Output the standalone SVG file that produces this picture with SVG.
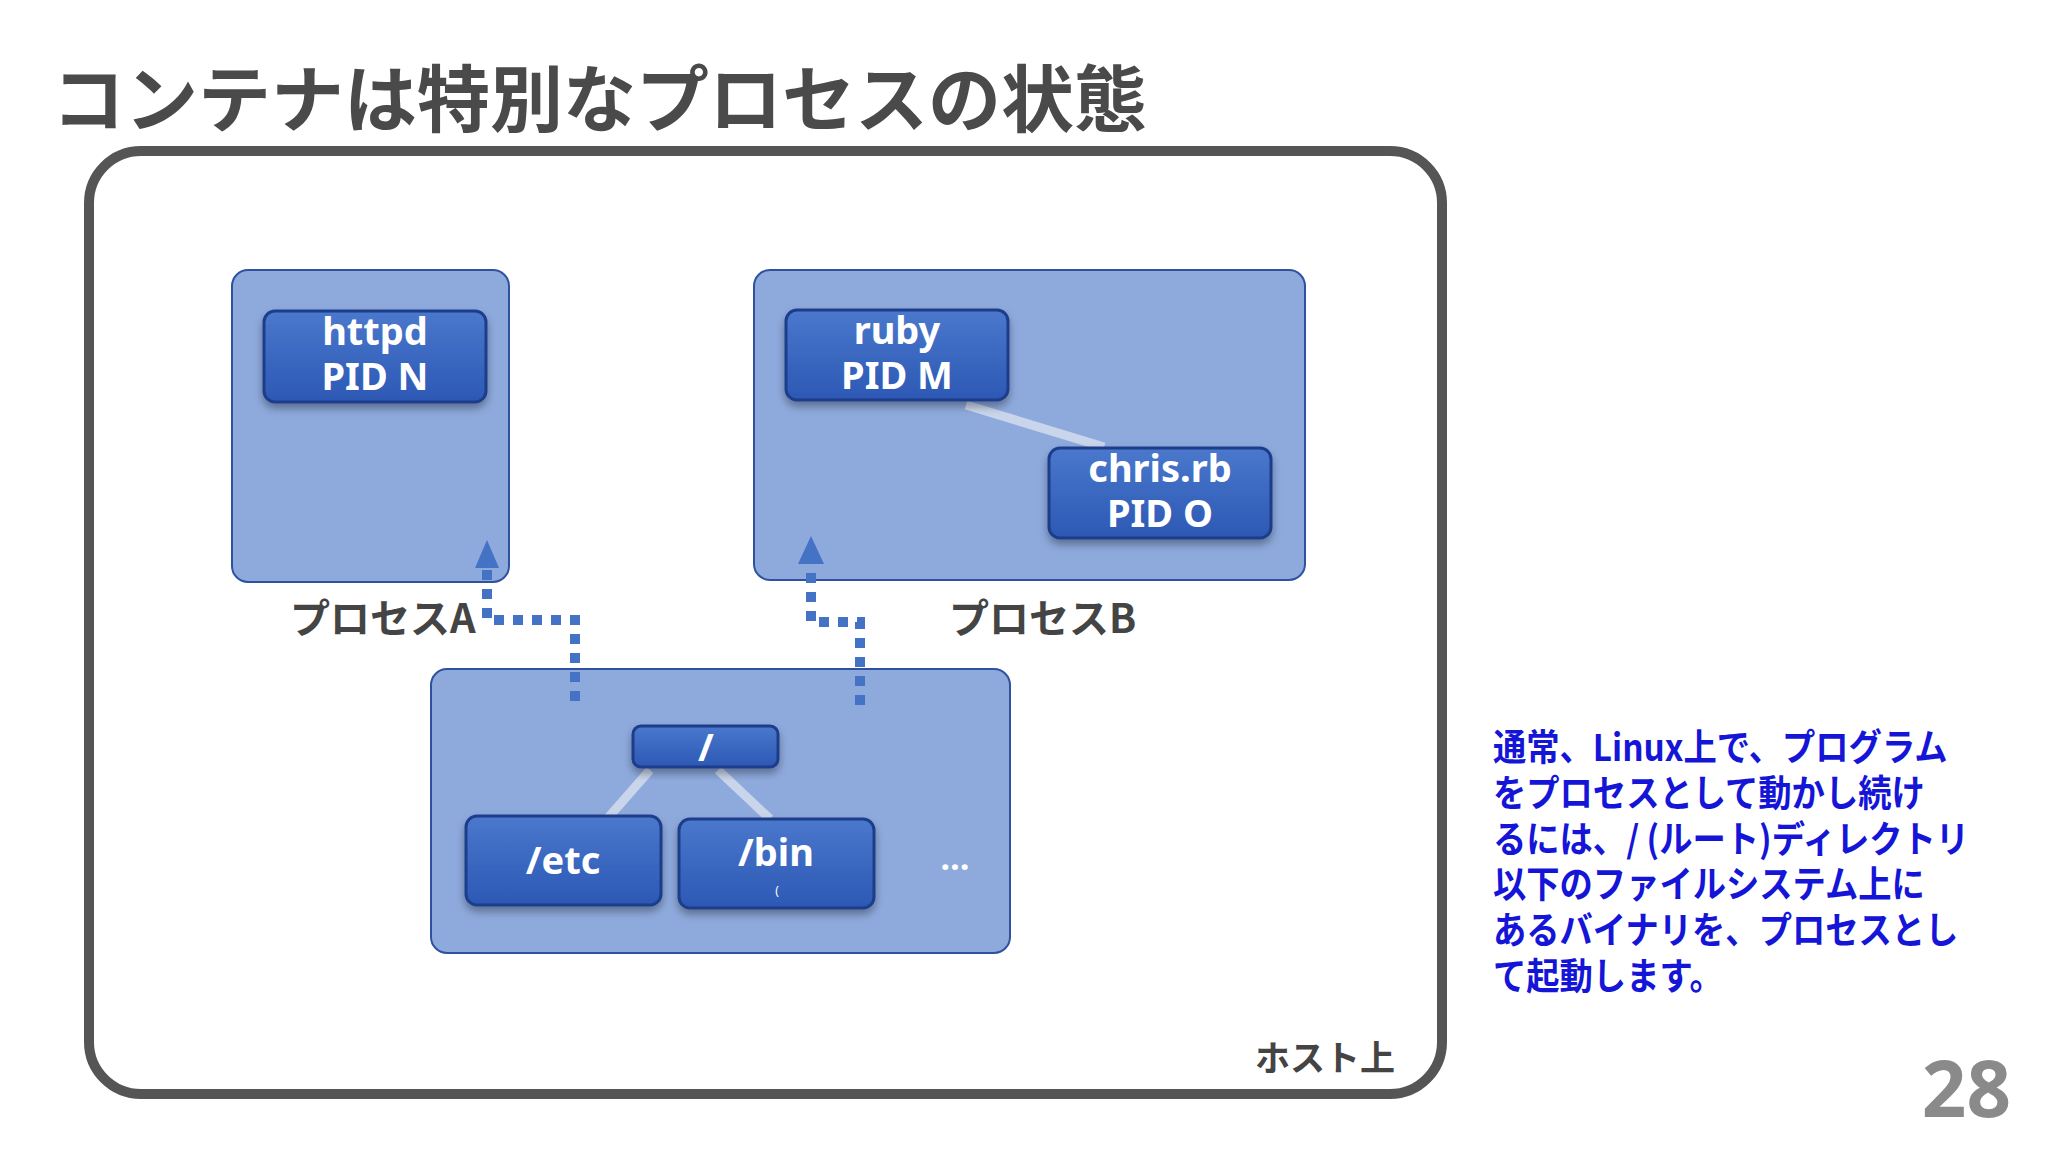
<svg xmlns="http://www.w3.org/2000/svg" width="2048" height="1152" viewBox="0 0 2048 1152">
<style>
.grp{fill:#8eaadd;stroke:#2f52a0;stroke-width:2}
.node{fill:url(#ng);stroke:#1e3d8a;stroke-width:3;filter:url(#sh)}
.nt{font-family:"Noto Sans","Open Sans",sans-serif;font-weight:bold;font-size:38px;fill:#fff;text-anchor:middle}
.lbl{font-family:"Noto Sans CJK JP","Noto Sans",sans-serif;font-weight:bold;font-size:40px;fill:#444}
.tree{stroke:#c9d5ea;stroke-width:9;fill:none}
.dot{stroke:#4472c4;stroke-width:10;stroke-dasharray:10 9;fill:none}
.note{font-family:"Noto Sans CJK JP",sans-serif;font-weight:bold;font-size:37px;fill:#1515d8}
</style>
<defs>
<linearGradient id="ng" x1="0" y1="0" x2="0" y2="1"><stop offset="0" stop-color="#4a78cc"/><stop offset="1" stop-color="#2c58b4"/></linearGradient>
<filter id="sh" x="-10%" y="-10%" width="120%" height="140%"><feDropShadow dx="0" dy="5" stdDeviation="4" flood-color="#000" flood-opacity="0.35"/></filter>
</defs>
<rect width="2048" height="1152" fill="#fff"/>
<text x="52" y="126" font-family="Noto Sans CJK JP,sans-serif" font-weight="bold" font-size="73" fill="#4a4a4a">コンテナは特別なプロセスの状態</text>
<rect x="89" y="151" width="1353" height="943" rx="52" fill="#fff" stroke="#555" stroke-width="10"/>
<g id="processA"><rect class="grp" x="232" y="270" width="277" height="312" rx="16"/></g>
<g id="processB"><rect class="grp" x="754" y="270" width="551" height="310" rx="16"/></g>
<g id="fs"><rect class="grp" x="431" y="669" width="579" height="284" rx="16"/></g>
<g id="connectors">
<line class="tree" x1="966" y1="405" x2="1104" y2="447"/>
<line class="tree" x1="650" y1="770" x2="607" y2="819"/>
<line class="tree" x1="718" y1="770" x2="770" y2="819"/>
<polyline class="dot" points="575,701 575,620 487,620 487,565"/>
<polygon points="487,540 475,568 499,568" fill="#4472c4"/>
<polyline class="dot" points="860,705 860,622 811,622 811,562"/>
<polygon points="811,536 798,564 824,564" fill="#4472c4"/>
</g>
<g id="httpd"><rect class="node" x="264" y="311" width="222" height="91" rx="11"/><text class="nt" x="375" y="345">httpd</text><text class="nt" x="375" y="390">PID N</text></g>
<g id="ruby"><rect class="node" x="786" y="310" width="222" height="90" rx="11"/><text class="nt" x="897" y="344">ruby</text><text class="nt" x="897" y="389">PID M</text></g>
<g id="chris"><rect class="node" x="1049" y="448" width="222" height="90" rx="11"/><text class="nt" x="1160" y="482">chris.rb</text><text class="nt" x="1160" y="527">PID O</text></g>
<g id="root"><rect class="node" x="633" y="726" width="145" height="41" rx="8"/><text class="nt" x="706" y="761">/</text></g>
<g id="etc"><rect class="node" x="466" y="816" width="195" height="89" rx="11"/><text class="nt" x="563" y="874">/etc</text></g>
<g id="bin"><rect class="node" x="679" y="819" width="195" height="89" rx="11"/><text class="nt" x="776" y="866">/bin</text><text class="nt" x="777" y="895" style="font-size:12px;font-weight:normal">(</text></g>
<text x="955" y="870" class="nt" style="font-size:34px">…</text>
<text class="lbl" x="290" y="633">プロセスA</text>
<text class="lbl" x="949" y="633">プロセスB</text>
<text class="lbl" x="1395" y="1071" text-anchor="end" style="font-size:35px">ホスト上</text>
<g class="note" transform="translate(1493,0) scale(0.9,1) translate(-1493,0)">
<text x="1493" y="761">通常、Linux上で、プログラム</text>
<text x="1493" y="807">をプロセスとして動かし続け</text>
<text x="1493" y="853">るには、/ (ルート)ディレクトリ</text>
<text x="1493" y="898">以下のファイルシステム上に</text>
<text x="1493" y="944">あるバイナリを、プロセスとし</text>
<text x="1493" y="990">て起動します。</text>
</g>
<text x="2011" y="1117" text-anchor="end" font-family="Noto Sans,sans-serif" font-weight="bold" font-size="78" fill="#8a8a8a">28</text>
</svg>
